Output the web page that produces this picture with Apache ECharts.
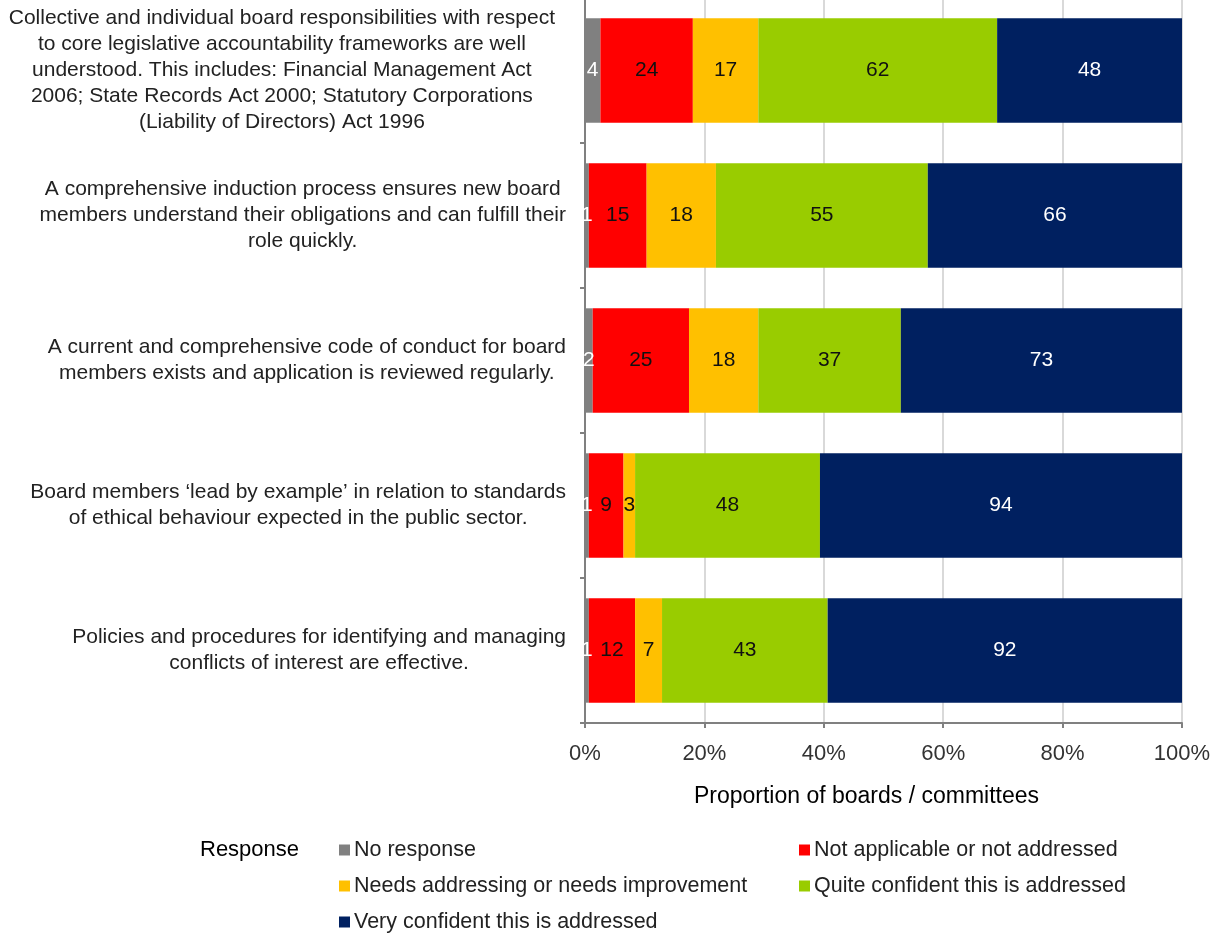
<!DOCTYPE html>
<html>
<head>
<meta charset="utf-8">
<script src="https://cdn.jsdelivr.net/npm/echarts@6/dist/echarts.min.js"></script>
<style>html,body{margin:0;padding:0;background:#fff}#c{width:1210px;height:936px}</style>
</head>
<body>
<div id="c"></div>
<script>
var categories = [
  "Collective and individual board responsibilities with respect\nto core legislative accountability frameworks are well\nunderstood. This includes: Financial Management Act\n2006; State Records Act 2000; Statutory Corporations\n(Liability of Directors) Act 1996",
  "A comprehensive induction process ensures new board\nmembers understand their obligations and can fulfill their\nrole quickly.",
  "A current and comprehensive code of conduct for board\nmembers exists and application is reviewed regularly.",
  "Board members \u2018lead by example\u2019 in relation to standards\nof ethical behaviour expected in the public sector.",
  "Policies and procedures for identifying and managing\nconflicts of interest are effective."
];
var seriesNames = [
  "No response",
  "Not applicable or not addressed",
  "Needs addressing or needs improvement",
  "Quite confident this is addressed",
  "Very confident this is addressed"
];
var noResponse   = [4, 1, 2, 1, 1];
var notApplicable = [24, 15, 25, 9, 12];
var needsAddressing = [17, 18, 18, 3, 7];
var quiteConfident = [62, 55, 37, 48, 43];
var veryConfident = [48, 66, 73, 94, 92];
var xTicks = [0, 20, 40, 60, 80, 100];

var colors = ["#808080", "#FF0000", "#FFC000", "#99CC00", "#002060"];
var labelColors = ["#ffffff", "#111111", "#111111", "#111111", "#ffffff"];
var FONT = "Liberation Sans";

var raw = [noResponse, notApplicable, needsAddressing, quiteConfident, veryConfident];
var totals = categories.map(function (_, i) {
  return raw.reduce(function (s, arr) { return s + arr[i]; }, 0);
});

var series = raw.map(function (arr, k) {
  return {
    name: seriesNames[k],
    type: 'bar',
    stack: 'all',
    barCategoryGap: '28%',
    itemStyle: { color: colors[k] },
    label: {
      show: true,
      position: 'inside',
      color: labelColors[k],
      fontFamily: FONT,
      fontSize: 21,
      formatter: function (p) { return String(arr[p.dataIndex]); }
    },
    data: arr.map(function (v, i) { return v / totals[i] * 100; })
  };
});

var legendPos = [
  { left: 339, top: 838 },
  { left: 799, top: 838 },
  { left: 339, top: 874 },
  { left: 799, top: 874 },
  { left: 339, top: 910 }
];
var legends = seriesNames.map(function (n, k) {
  return {
    data: [n],
    left: legendPos[k].left,
    top: legendPos[k].top,
    padding: 0,
    icon: 'rect',
    itemWidth: 11,
    itemHeight: 11,
    itemGap: 5,
    selectedMode: false,
    textStyle: { fontFamily: FONT, fontSize: 21.5, color: '#222', lineHeight: 24, padding: [0, 0, 0, -1] }
  };
});

var chart = echarts.init(document.getElementById('c'), null, { renderer: 'canvas' });
chart.setOption({
  animation: false,
  color: colors,
  textStyle: { fontFamily: FONT },
  grid: { left: 585, right: 28, top: -2, bottom: 213, containLabel: false, outerBoundsMode: 'none' },
  legend: legends,
  graphic: [{
    type: 'text', left: 200, top: 839,
    style: { text: 'Response', fontFamily: FONT, fontSize: 22, fill: '#000', fontWeight: 'normal' }
  }],
  xAxis: {
    type: 'value', min: xTicks[0], max: xTicks[xTicks.length - 1], interval: 20,
    name: 'Proportion of boards / committees',
    nameLocation: 'middle', nameGap: 62,
    nameTextStyle: { fontFamily: FONT, fontSize: 23, color: '#000', padding: [0, 34, 0, 0] },
    axisLine: { show: true, lineStyle: { color: '#808080', width: 2 } },
    axisTick: { show: true, length: 5, lineStyle: { color: '#808080', width: 2 } },
    axisLabel: { formatter: '{value}%', fontFamily: FONT, fontSize: 22, color: '#333', margin: 20 },
    splitLine: { show: true, lineStyle: { color: '#d9d9d9', width: 2 } }
  },
  yAxis: {
    type: 'category', inverse: true, data: categories,
    axisLine: { show: true, lineStyle: { color: '#808080', width: 2 } },
    axisTick: { show: true, length: 5, interval: 0, lineStyle: { color: '#808080', width: 2 } },
    axisLabel: {
      margin: 19, interval: 0,
      formatter: function (v, idx) {
        var key = idx === 0 ? 'p' : 'c';
        return v.split('\n').map(function (l) { return '{' + key + '|' + l + '}'; }).join('\n');
      },
      rich: {
        c: { align: 'center', fontFamily: FONT, fontSize: 21, lineHeight: 26, color: '#222' },
        p: { align: 'center', fontFamily: FONT, fontSize: 21, lineHeight: 26, color: '#222', padding: [0, 11, 0, 0] }
      }
    }
  },
  series: series
});
</script>
</body>
</html>
